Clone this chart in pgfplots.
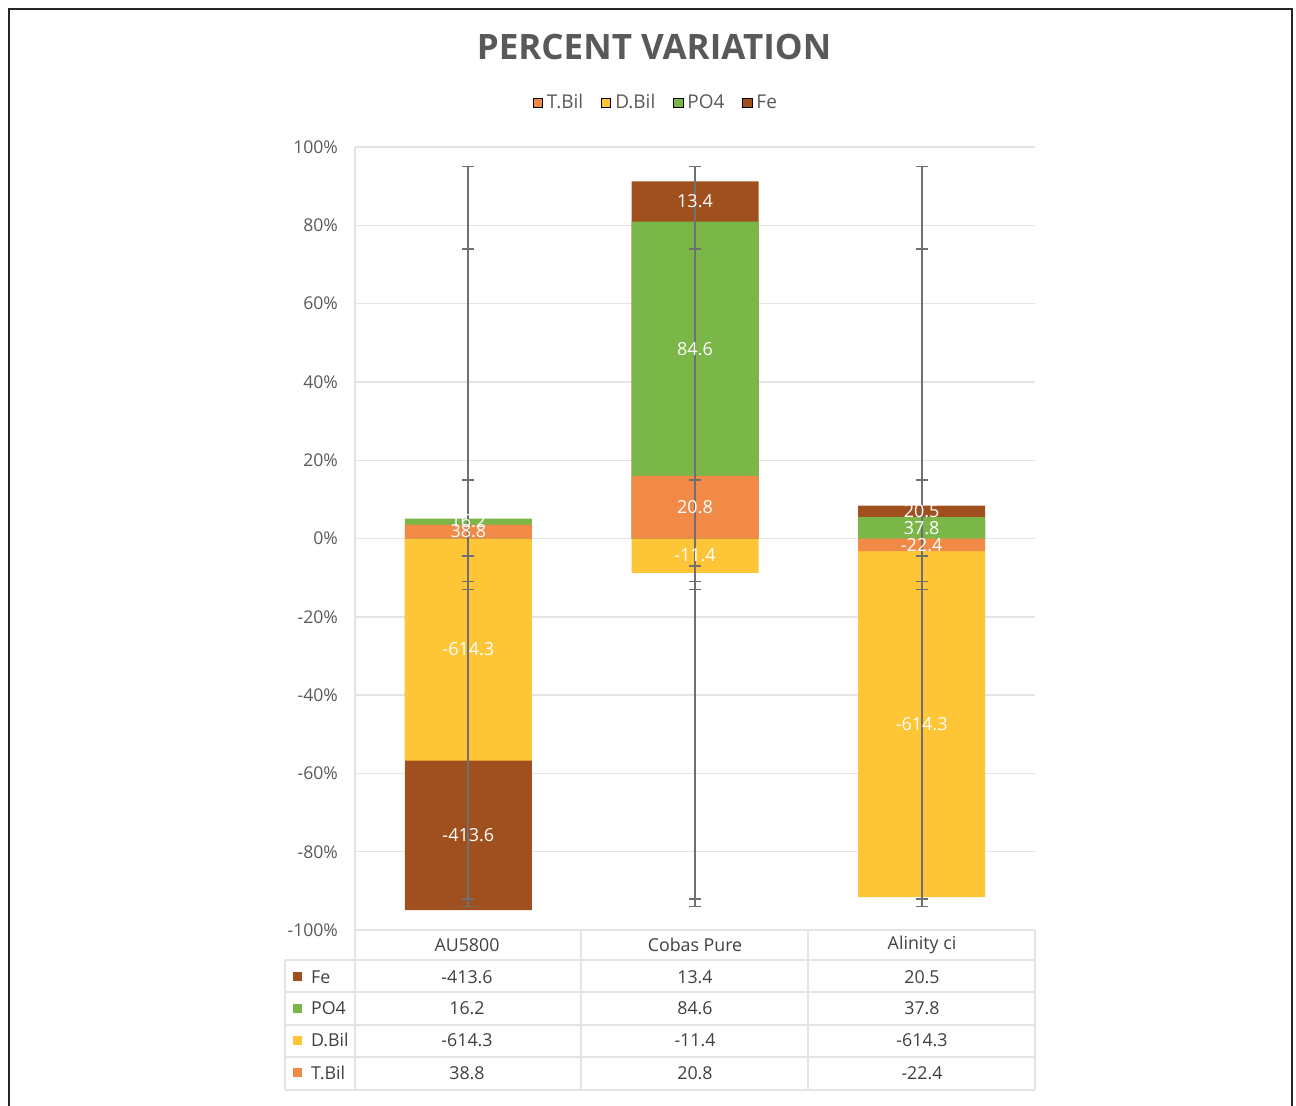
\documentclass[border=0pt]{standalone}
\usepackage{pgfplots}
\pgfplotsset{compat=1.18}
\usepackage{fontspec}
\setmainfont{Open Sans}
\definecolor{tbil}{HTML}{F08A46}
\definecolor{dbil}{HTML}{FEC536}
\definecolor{po4}{HTML}{7AB648}
\definecolor{fe}{HTML}{A0501F}
\definecolor{txt}{HTML}{595959}
\definecolor{tabtxt}{HTML}{404040}
\definecolor{gridc}{HTML}{E4E4E4}
\definecolor{ebar}{HTML}{707070}
\begin{document}
\begin{tikzpicture}
\begin{scope}[x=0.5pt,y=-0.5pt]
\path[use as bounding box] (0,0) rectangle (1296,1105);
\draw[line width=0.7pt, color=black!85] (9,1115) -- (9,9) -- (1292,9) -- (1292,1115);
\draw[gridc, line width=0.6pt] (355,147) -- (355,930);
\end{scope}
\begin{axis}[
  at={(177.5pt,-465pt)}, anchor=south west,
  width=340pt, height=391.5pt, scale only axis,
  xmin=-0.5, xmax=2.5, ymin=-100, ymax=100,
  xtick=\empty,
  ytick={-100,-80,...,100},
  yticklabel={\pgfmathprintnumber{\tick}\%},
  /pgf/number format/assume math mode=true,
  yticklabel style={font=\fontsize{8.8}{10}\selectfont, text=txt, xshift=-5pt},
  ymajorgrids, grid style={gridc, line width=0.7pt},
  major tick length=0pt,
  axis line style={draw=none},
  clip=false,
  legend style={at={(0.444,1.056)}, anchor=center, draw=none, fill=none,
    font=\fontsize{9.5}{11}\selectfont, text=txt, legend columns=4,
    /tikz/every even column/.append style={column sep=7pt}},
  legend image code/.code={\fill[#1] (0pt,-2.3pt) rectangle (4.6pt,2.3pt);},
]
% cumulative ends of the 100%-stacked segments (positives up, negatives down)
\addplot[ybar, bar width=63.5pt, bar shift=0pt, fill=fe, draw=none, forget plot]
  coordinates {(0,-94.92) (1,91.24) (2,8.39)};
\addplot[ybar, bar width=63.5pt, bar shift=0pt, fill=dbil, draw=none, forget plot]
  coordinates {(0,-56.73) (1,-8.76) (2,-91.61)};
\addplot[ybar, bar width=63.5pt, bar shift=0pt, fill=po4, draw=none, forget plot]
  coordinates {(0,5.08) (1,80.95) (2,5.44)};
\addplot[ybar, bar width=63.5pt, bar shift=0pt, fill=tbil, draw=none, forget plot]
  coordinates {(0,3.58) (1,15.98) (2,-3.22)};
% error bars
\addplot[forget plot, draw=none, mark=none,
  error bars/.cd, y dir=both, y explicit,
  error bar style={draw=ebar, line width=0.9pt},
  error mark options={rotate=90, draw=ebar, line width=0.9pt, mark size=3pt}]
  coordinates {(0,0.5) +- (0,94.5) (1,0.5) +- (0,94.5) (2,0.5) +- (0,94.5)
               (0,-9) +- (0,83) (1,-9) +- (0,83) (2,-9) +- (0,83)
               (0,1) +- (0,14) (1,1) +- (0,14) (2,1) +- (0,14)
               (0,-7.75) +- (0,3.25) (1,-9) +- (0,2) (2,-7.75) +- (0,3.25)};
% data labels
\addplot[forget plot, only marks, mark=none, point meta=explicit symbolic,
  nodes near coords, nodes near coords align=center,
  every node near coord/.append style={font=\fontsize{9}{10}\selectfont, text=white, inner sep=0pt}]
  coordinates {(0,4.33) [16.2] (0,1.79) [38.8] (0,-28.36) [-614.3] (0,-75.83) [-413.6]
               (1,86.10) [13.4] (1,48.46) [84.6] (1,7.99) [20.8] (1,-4.38) [-11.4]
               (2,6.92) [20.5] (2,2.72) [37.8] (2,-1.61) [-22.4] (2,-47.42) [-614.3]};
\addlegendimage{fill=tbil}\addlegendentry{T.Bil}
\addlegendimage{fill=dbil}\addlegendentry{D.Bil}
\addlegendimage{fill=po4}\addlegendentry{PO4}
\addlegendimage{fill=fe}\addlegendentry{Fe}
\end{axis}
\begin{scope}[x=0.5pt,y=-0.5pt]
\node[font=\fontsize{17.5}{21}\selectfont\bfseries, text=txt] at (654,47) {PERCENT VARIATION};
% data table
\begin{scope}[draw=gridc, line width=0.7pt]
\draw (355,930) -- (1035,930);
\foreach \yy in {960,992,1025,1057,1090} \draw (285,\yy) -- (1035,\yy);
\draw (285,960) -- (285,1090);
\foreach \xx in {355,581,808,1035} \draw (\xx,930) -- (\xx,1090);
\end{scope}
\begin{scope}[every node/.style={font=\fontsize{8.9}{10}\selectfont, text=tabtxt}]
\node at (467,945) {AU5800};
\node at (695,945) {Cobas Pure};
\node at (922,945) {Alinity ci};
\fill[fe] (293,972) rectangle (302,981);   \node[anchor=west] at (304,977) {Fe};
\fill[po4] (293,1004) rectangle (302,1013); \node[anchor=west] at (304,1008) {PO4};
\fill[dbil] (293,1036) rectangle (302,1045); \node[anchor=west] at (304,1040) {D.Bil};
\fill[tbil] (293,1068) rectangle (302,1077); \node[anchor=west] at (304,1073) {T.Bil};
\node at (467,977) {-413.6}; \node at (695,977) {13.4}; \node at (922,977) {20.5};
\node at (467,1008) {16.2};  \node at (695,1008) {84.6}; \node at (922,1008) {37.8};
\node at (467,1040) {-614.3}; \node at (695,1040) {-11.4}; \node at (922,1040) {-614.3};
\node at (467,1073) {38.8};  \node at (695,1073) {20.8}; \node at (922,1073) {-22.4};
\end{scope}
\end{scope}
\end{tikzpicture}
\end{document}
